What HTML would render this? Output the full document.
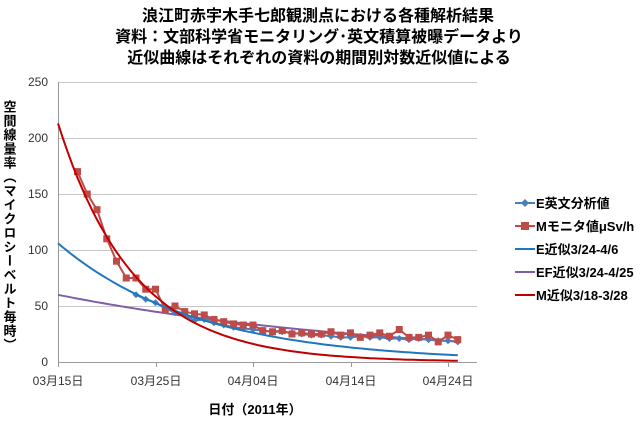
<!DOCTYPE html>
<html><head><meta charset="utf-8"><style>
body{margin:0;background:#fff;width:640px;height:423px;overflow:hidden;font-family:"Liberation Sans","Noto Sans CJK JP",sans-serif}
</style></head><body>
<svg id="s" width="640" height="423" xmlns="http://www.w3.org/2000/svg" font-family="Liberation Sans, Noto Sans CJK JP, sans-serif">
<g font-size="16" font-weight="bold" text-anchor="middle" fill="#000">
<text x="318" y="21">浪江町赤宇木手七郎観測点における各種解析結果</text>
<text x="319" y="42">資料：文部科学省モニタリング･英文積算被曝データより</text>
<text x="319" y="63">近似曲線はそれぞれの資料の期間別対数近似値による</text>
</g>
<g stroke="#c8c8c8" stroke-width="1">
<line x1="58" x2="477" y1="82.5" y2="82.5"/><line x1="58" x2="477" y1="138.5" y2="138.5"/>
<line x1="58" x2="477" y1="194.5" y2="194.5"/><line x1="58" x2="477" y1="250.5" y2="250.5"/>
<line x1="58" x2="477" y1="306.5" y2="306.5"/>
</g>
<g stroke="#999" stroke-width="1">
<line x1="58.5" x2="58.5" y1="82" y2="362"/><line x1="58" x2="477" y1="362.5" y2="362.5"/>
<line x1="58.5" x2="58.5" y1="362" y2="367"/><line x1="156.5" x2="156.5" y1="362" y2="367"/>
<line x1="253.5" x2="253.5" y1="362" y2="367"/><line x1="351.5" x2="351.5" y1="362" y2="367"/>
<line x1="448.5" x2="448.5" y1="362" y2="367"/>
</g>
<g font-size="12" fill="#333" text-anchor="end">
<text x="48" y="86">250</text><text x="48" y="142">200</text><text x="48" y="198">150</text>
<text x="48" y="254">100</text><text x="48" y="310">50</text><text x="48" y="366">0</text>
</g>
<g font-size="12" fill="#333" text-anchor="middle">
<text x="58" y="385">03月15日</text><text x="156" y="385">03月25日</text><text x="253" y="385">04月04日</text>
<text x="351" y="385">04月14日</text><text x="448" y="385">04月24日</text>
</g>
<text x="255" y="414" font-size="13" font-weight="bold" text-anchor="middle">日付（2011年）</text>
<text x="5" y="100" font-size="13" font-weight="bold" writing-mode="tb" style="writing-mode:vertical-rl;letter-spacing:1px" transform="translate(4,0)">空間線量率（マイクロシーベルト毎時）</text>
<g id="plot"></g>
<g font-size="13" fill="#000">
<line x1="515" x2="535" y1="203" y2="203" stroke="#4a7ebb" stroke-width="2"/><path d="M525 199l4 4-4 4-4-4z" fill="#4a7ebb"/>
<text x="536" y="208" font-weight="bold">E英文分析値</text>
<line x1="515" x2="535" y1="226" y2="226" stroke="#be4b48" stroke-width="2"/><rect x="521" y="222" width="8" height="8" fill="#be4b48"/>
<text x="536" y="231" font-weight="bold">Mモニタ値μSv/h</text>
<line x1="515" x2="535" y1="249" y2="249" stroke="#1f77c0" stroke-width="2"/>
<text x="536" y="254" font-weight="bold">E近似3/24-4/6</text>
<line x1="515" x2="535" y1="272" y2="272" stroke="#7f5fa8" stroke-width="2"/>
<text x="536" y="277" font-weight="bold">EF近似3/24-4/25</text>
<line x1="515" x2="535" y1="295" y2="295" stroke="#c00000" stroke-width="2"/>
<text x="536" y="300" font-weight="bold">M近似3/18-3/28</text>
</g>
</svg>
<script>
var X=function(d){return 58+d*9.75},Y=function(v){return 362-v*1.12};
var g=document.getElementById('plot'),ns='http://www.w3.org/2000/svg';
function path(pts,col,w){var p=document.createElementNS(ns,'path');p.setAttribute('d','M'+pts.map(function(a){return X(a[0]).toFixed(1)+' '+Y(a[1]).toFixed(1)}).join('L'));p.setAttribute('fill','none');p.setAttribute('stroke',col);p.setAttribute('stroke-width',w);g.appendChild(p);}
function fit(a,k,col){var pts=[];for(var t=0;t<=41;t+=0.5)pts.push([t,a*Math.exp(-k*t)]);path(pts,col,2);}
var M=[170,150,136,110,90,75,75,65,65,47,50,45,43,42,38,36,34,33,33,28,27,28,25,26,25,25,27,24,26,22,24,26,23,29,22,22,24,18,24,20];
var mp=M.map(function(v,i){return [i+2,v]});
var E=[60,56,53,48,44,42,37,38,35,33,31,30,29,28,27,27,26,25,24,24,23,22,22,23,22,22,21,21,20,21,20,19,19,18];
var ep=E.map(function(v,i){return [i+8,v]});
fit(60,0.029,'#7f5fa8');
path(ep,'#4a7ebb',2);
ep.forEach(function(a){var p=document.createElementNS(ns,'path');var x=X(a[0]),y=Y(a[1]);p.setAttribute('d','M'+x+' '+(y-3.5)+'l3.5 3.5-3.5 3.5-3.5-3.5z');p.setAttribute('fill','#4a7ebb');g.appendChild(p);});
path(mp,'#be4b48',2);
mp.forEach(function(a){var r=document.createElementNS(ns,'rect');r.setAttribute('x',X(a[0])-3.5);r.setAttribute('y',Y(a[1])-3.5);r.setAttribute('width',7);r.setAttribute('height',7);r.setAttribute('fill','#be4b48');g.appendChild(r);});
fit(106,0.07,'#1f77c0');
fit(213,0.129,'#c00000');
</script>
</body></html>
